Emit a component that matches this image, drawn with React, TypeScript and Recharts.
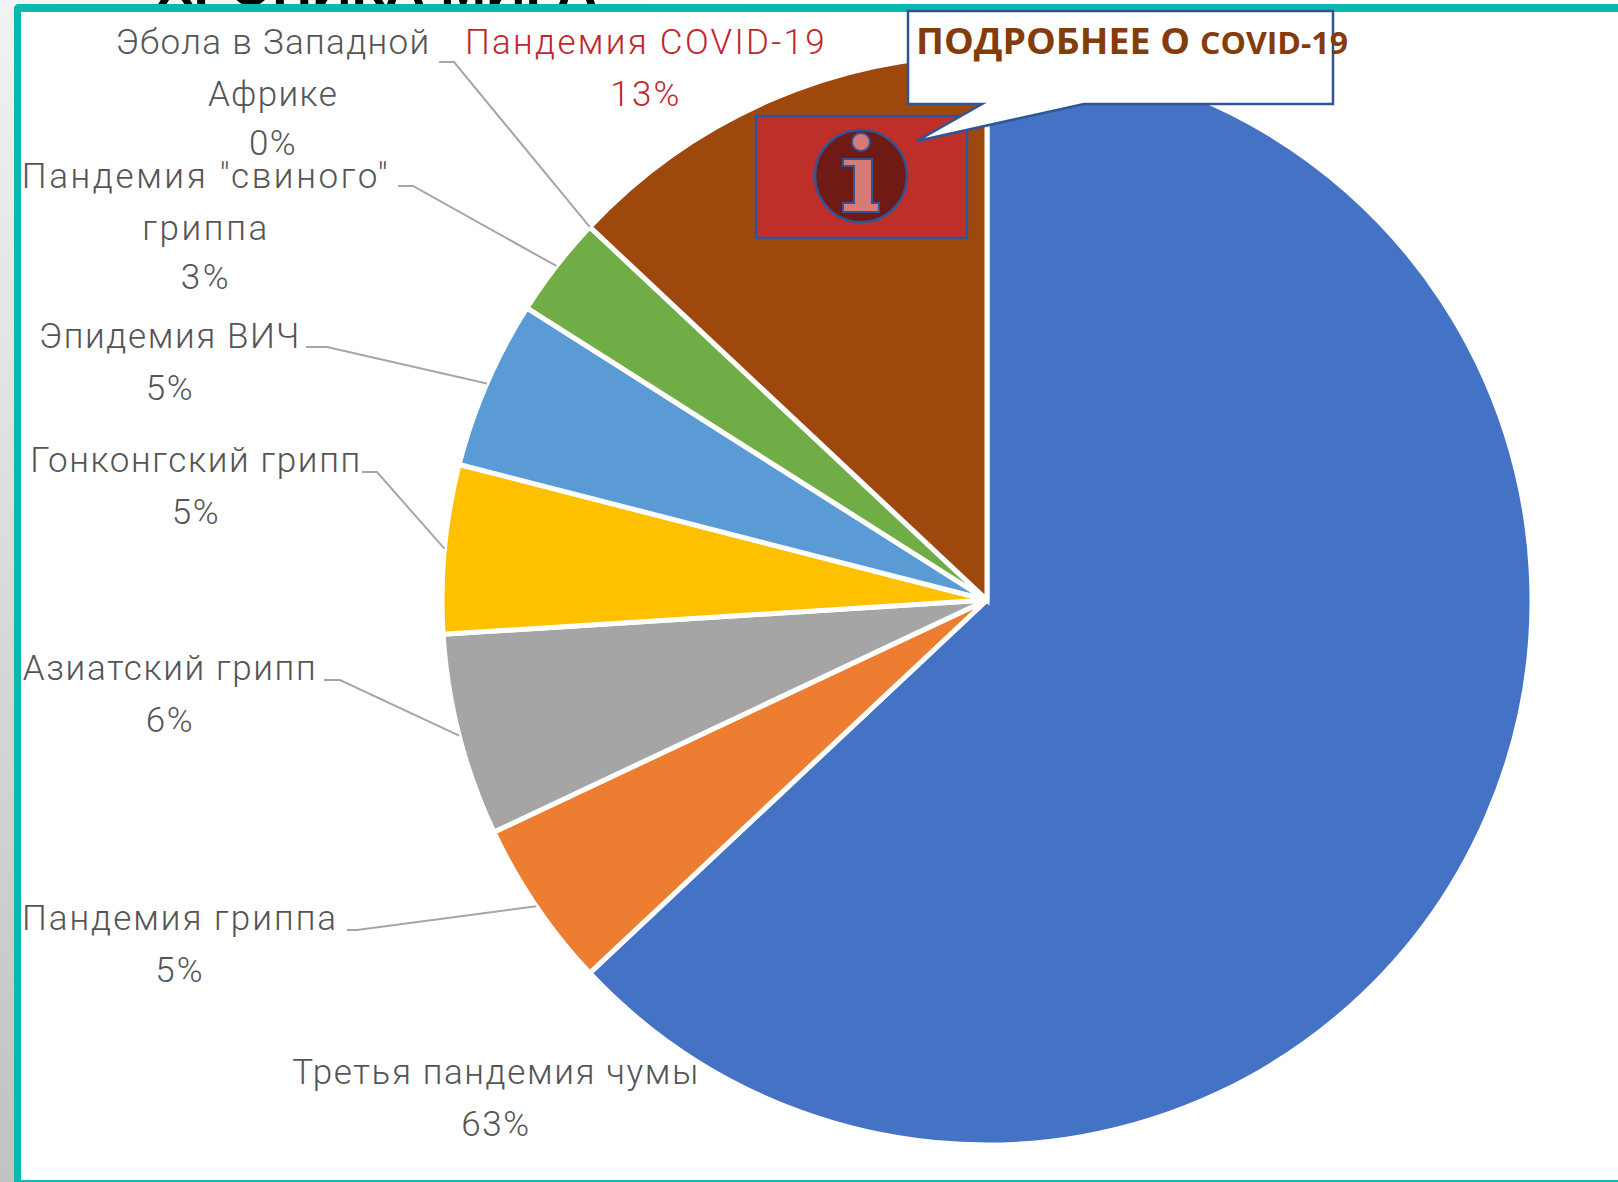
import React from 'react';
import { PieChart, Pie, Cell } from 'recharts';

// Share of each outbreak, in percent
const outbreakNames = [
  'Третья пандемия чумы',
  'Пандемия гриппа',
  'Азиатский грипп',
  'Гонконгский грипп',
  'Эпидемия ВИЧ',
  'Пандемия "свиного" гриппа',
  'Эбола в Западной Африке',
  'Пандемия COVID-19',
];
const outbreakShares = [63, 5, 6, 5, 5, 3, 0, 13];
const sliceColors = ['#4472C4', '#ED7D31', '#A5A5A5', '#FFC000', '#5B9BD5', '#70AD47', '#264478', '#9E480E'];

const rows = outbreakNames.map((name, i) => ({ name, value: outbreakShares[i] }));

// Where each callout label sits, in slice order
type Placement = {
  lines: string[];
  x: number;
  y: number;
  elbow?: [number, number, number];
  color?: string;
  tracking?: number;
};
const placements: Placement[] = [
  { lines: ['Третья пандемия чумы'], x: 496, y: 1072 },
  { lines: ['Пандемия гриппа'], x: 180, y: 918, elbow: [347, 357, 930], tracking: 2 },
  { lines: ['Азиатский грипп'], x: 170, y: 668, elbow: [324, 340, 680] },
  { lines: ['Гонконгский грипп'], x: 196, y: 460, elbow: [362, 377, 472] },
  { lines: ['Эпидемия ВИЧ'], x: 170, y: 336, elbow: [306, 327, 347] },
  { lines: ['Пандемия "свиного"', 'гриппа'], x: 206, y: 176, elbow: [398, 413, 186], tracking: 2.6 },
  { lines: ['Эбола в Западной', 'Африке'], x: 273, y: 42, elbow: [439, 454, 62], tracking: 1.3 },
  { lines: ['Пандемия COVID-19'], x: 646, y: 42, color: '#C0272D', tracking: 2.3 },
];

const LINE_STEP = 52;
const RADIAN = Math.PI / 180;

function OutbreakLabel(props: any) {
  const { cx, cy, midAngle, outerRadius, index, value } = props;
  const place = placements[index];
  const tipX = cx + outerRadius * Math.cos(-midAngle * RADIAN);
  const tipY = cy + outerRadius * Math.sin(-midAngle * RADIAN);
  const fill = place.color ?? '#555555';
  const allLines = [...place.lines, `${value}%`];
  return (
    <g>
      {place.elbow && (
        <polyline
          points={`${place.elbow[0]},${place.elbow[2]} ${place.elbow[1]},${place.elbow[2]} ${tipX},${tipY}`}
          fill="none"
          stroke="#A6A6A6"
          strokeWidth={2}
        />
      )}
      {allLines.map((line, i) => (
        <text
          key={line}
          x={place.x}
          y={place.y + i * LINE_STEP - (i === 2 ? 3 : 0)}
          textAnchor="middle"
          dominantBaseline="central"
          fill={fill}
          fontFamily="Roboto, sans-serif"
          fontWeight={300}
          fontSize={35}
          letterSpacing={place.tracking ?? 1.6}
        >
          {line}
        </text>
      ))}
    </g>
  );
}

const frameTeal = '#0BB8AE';
const calloutBlue = '#2F5597';
const calloutText = '#843C0C';

export default function App() {
  return (
    <div
      style={{
        position: 'absolute',
        left: 0,
        top: 0,
        width: 1618,
        height: 1182,
        overflow: 'hidden',
        background: 'linear-gradient(180deg, #f2f2f2 0%, #c2c2c2 100%)',
      }}
    >
      <div
        style={{
          position: 'absolute',
          left: 14,
          right: 0,
          top: 0,
          height: 5,
          background: 'linear-gradient(90deg, #f2f2f2 0%, #ffffff 60%)',
        }}
      />
      <svg width={1618} height={6} style={{ position: 'absolute', left: 0, top: 0 }}>
        <text
          x={377}
          y={4.5}
          textAnchor="middle"
          fontFamily="Liberation Sans, sans-serif"
          fontWeight={700}
          fontSize={55}
          fill="#000"
        >
          ХРОНИКА МИРА
        </text>
      </svg>
      <div
        style={{
          position: 'absolute',
          left: 14,
          top: 4,
          width: 1610,
          height: 1178,
          boxSizing: 'border-box',
          background: '#fff',
          borderLeft: `7px solid ${frameTeal}`,
          borderTop: `8px solid ${frameTeal}`,
          borderBottom: `2px solid ${frameTeal}`,
          borderTopLeftRadius: 5,
        }}
      />
      <div style={{ position: 'absolute', left: 0, top: 0 }}>
        <PieChart width={1618} height={1182} margin={{ top: 0, right: 0, bottom: 0, left: 0 }}>
          <Pie
            data={rows}
            dataKey="value"
            nameKey="name"
            cx={987}
            cy={600}
            outerRadius={545}
            startAngle={90}
            endAngle={-270}
            stroke="#ffffff"
            strokeWidth={5}
            isAnimationActive={false}
            labelLine={false}
            label={OutbreakLabel}
          >
            {rows.map((row, i) => (
              <Cell key={row.name} fill={sliceColors[i]} />
            ))}
          </Pie>
        </PieChart>
      </div>
      {/* "More about COVID-19" button and its speech bubble */}
      <svg width={1618} height={1182} style={{ position: 'absolute', left: 0, top: 0, pointerEvents: 'none' }}>
        <rect x={756} y={116} width={211} height={122} fill="#BE2F29" stroke={calloutBlue} strokeWidth={2.5} />
        <ellipse cx={861} cy={176} rx={46} ry={46} fill="#701A15" stroke={calloutBlue} strokeWidth={2.5} />
        <ellipse cx={861} cy={142} rx={9} ry={9} fill="#D67B76" stroke={calloutBlue} strokeWidth={2} />
        <path
          d="M843 159 H872 V203 H879 V212 H843 V203 H854 V166 H843 Z"
          fill="#D67B76"
          stroke={calloutBlue}
          strokeWidth={2}
        />
        <path
          d="M908 11 H1333 V104 H1084 L917 141 L982 104 H908 Z"
          fill="#fff"
          stroke={calloutBlue}
          strokeWidth={2.5}
        />
        <text
          x={916}
          y={54}
          fontFamily="Open Sans, sans-serif"
          fontWeight={700}
          fontSize={36}
          fill={calloutText}
          textLength={274}
          lengthAdjust="spacingAndGlyphs"
        >
          ПОДРОБНЕЕ О
        </text>
        <text
          x={1200}
          y={54}
          fontFamily="Open Sans, sans-serif"
          fontWeight={700}
          fontSize={31}
          fill={calloutText}
          textLength={148}
          lengthAdjust="spacingAndGlyphs"
        >
          COVID-19
        </text>
      </svg>
    </div>
  );
}
